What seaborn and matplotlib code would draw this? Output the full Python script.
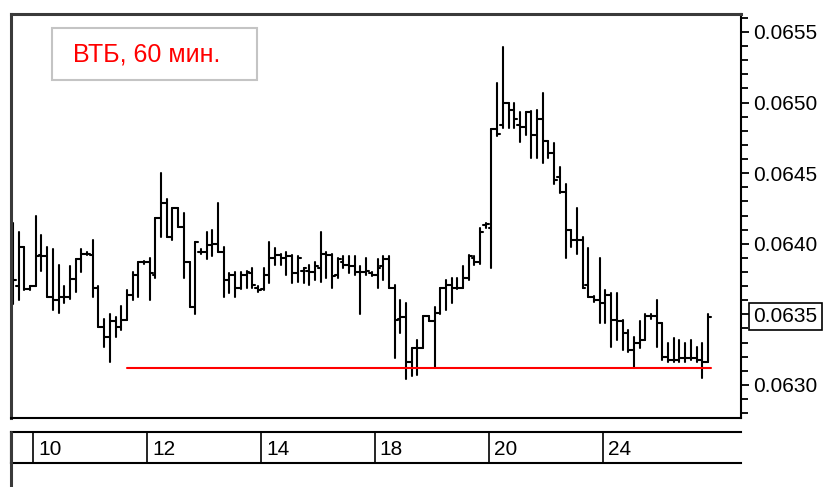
import matplotlib
matplotlib.use("Agg")
import matplotlib.pyplot as plt
import matplotlib.patches as mpatches
from matplotlib.lines import Line2D
import numpy as np
import pandas as pd
import seaborn as sns

title = "ВТБ, 60 мин."

# hourly OHLC bars, prices in units of 0.00001 rub
opens = [6408, 6370, 6398, 6368, 6370, 6392, 6391, 6362, 6360, 6362,
         6362, 6375, 6389, 6393, 6392, 6369, 6341, 6334, 6345, 6341,
         6346, 6364, 6378, 6387, 6387, 6378, 6418, 6429, 6405, 6425,
         6412, 6387, 6355, 6394, 6394, 6399, 6400, 6394, 6374, 6378,
         6369, 6378, 6379, 6369, 6368, 6378, 6390, 6392, 6390, 6391,
         6379, 6381, 6381, 6380, 6383, 6393, 6392, 6378, 6387, 6385,
         6384, 6380, 6380, 6379, 6378, 6384, 6389, 6369, 6347, 6348,
         6316, 6326, 6326, 6349, 6345, 6351, 6369, 6371, 6369, 6369,
         6376, 6390, 6387, 6413, 6411, 6481, 6484, 6500, 6495, 6484,
         6483, 6493, 6477, 6488, 6473, 6464, 6447, 6437, 6410, 6403,
         6403, 6371, 6362, 6360, 6358, 6364, 6346, 6345, 6337, 6325,
         6330, 6332, 6349, 6349, 6344, 6320, 6318, 6318, 6319, 6319,
         6319, 6318, 6316]
highs = [6415, 6408, 6398, 6370, 6420, 6406, 6398, 6396, 6385, 6370,
         6384, 6389, 6396, 6394, 6403, 6370, 6347, 6350, 6348, 6356,
         6367, 6380, 6387, 6388, 6390, 6418, 6450, 6432, 6425, 6425,
         6422, 6387, 6401, 6396, 6408, 6410, 6429, 6398, 6379, 6380,
         6380, 6381, 6383, 6370, 6383, 6401, 6397, 6393, 6394, 6392,
         6391, 6383, 6385, 6387, 6408, 6394, 6393, 6390, 6391, 6391,
         6391, 6384, 6390, 6380, 6389, 6391, 6391, 6371, 6360, 6358,
         6326, 6332, 6349, 6349, 6355, 6369, 6374, 6376, 6376, 6384,
         6392, 6391, 6411, 6415, 6481, 6514, 6539, 6500, 6500, 6493,
         6493, 6494, 6495, 6507, 6473, 6471, 6454, 6442, 6410, 6425,
         6405, 6397, 6363, 6390, 6367, 6365, 6365, 6346, 6339, 6334,
         6345, 6350, 6350, 6360, 6344, 6330, 6333, 6332, 6330, 6332,
         6327, 6330, 6350]
lows = [6357, 6360, 6367, 6367, 6370, 6381, 6362, 6353, 6351, 6358,
        6361, 6366, 6380, 6392, 6362, 6341, 6327, 6316, 6334, 6339,
        6346, 6360, 6362, 6386, 6360, 6376, 6405, 6405, 6403, 6412,
        6376, 6355, 6350, 6393, 6389, 6391, 6394, 6362, 6365, 6362,
        6368, 6369, 6369, 6366, 6367, 6372, 6385, 6385, 6378, 6372,
        6373, 6372, 6371, 6374, 6373, 6376, 6369, 6376, 6383, 6379,
        6378, 6350, 6378, 6377, 6369, 6374, 6369, 6319, 6337, 6304,
        6306, 6307, 6326, 6345, 6312, 6350, 6353, 6358, 6368, 6369,
        6374, 6385, 6386, 6411, 6383, 6476, 6482, 6482, 6482, 6472,
        6477, 6461, 6461, 6457, 6461, 6442, 6436, 6390, 6398, 6393,
        6369, 6362, 6359, 6344, 6344, 6327, 6332, 6325, 6323, 6312,
        6326, 6332, 6347, 6327, 6318, 6316, 6316, 6316, 6316, 6318,
        6316, 6305, 6316]
closes = [6374, 6398, 6368, 6370, 6391, 6391, 6362, 6360, 6362, 6362,
          6375, 6389, 6393, 6393, 6369, 6341, 6334, 6345, 6341, 6346,
          6364, 6378, 6387, 6387, 6379, 6418, 6429, 6405, 6425, 6412,
          6387, 6355, 6401, 6394, 6399, 6400, 6394, 6374, 6378, 6369,
          6378, 6380, 6371, 6367, 6378, 6390, 6392, 6390, 6391, 6379,
          6390, 6383, 6380, 6384, 6393, 6392, 6377, 6389, 6385, 6384,
          6380, 6380, 6381, 6378, 6383, 6389, 6369, 6346, 6348, 6316,
          6326, 6326, 6349, 6345, 6351, 6369, 6371, 6369, 6369, 6376,
          6391, 6387, 6408, 6414, 6481, 6478, 6500, 6495, 6488, 6483,
          6493, 6477, 6488, 6473, 6464, 6445, 6437, 6410, 6403, 6403,
          6369, 6362, 6360, 6358, 6364, 6346, 6345, 6337, 6325, 6330,
          6332, 6349, 6349, 6344, 6320, 6318, 6318, 6319, 6319, 6319,
          6318, 6316, 6348]

support_level = 6312
support_bars = [20, 122.5]

day_labels = ["10", "12", "14", "18", "20", "24"]
day_first_bar = [4, 24, 44, 64, 84, 104]

last_price = "0.0635"

sns.set_theme(style="white")
plt.rcParams['font.family'] = ['Liberation Sans', 'DejaVu Sans']

step = 1e-5
o = np.array(opens) * step
h = np.array(highs) * step
lo = np.array(lows) * step
c = np.array(closes) * step
n = len(o)
idx = np.arange(n)
w = 0.5

# every bar = high-low stroke + open tick (left) + close tick (right)
segs = pd.DataFrame({
    "x": np.concatenate([idx, idx, idx - w, idx, idx, idx + w]),
    "y": np.concatenate([lo, h, o, o, c, c]),
    "seg": np.concatenate([idx, idx, idx + n, idx + n, idx + 2 * n, idx + 2 * n]),
})

fig = plt.figure(figsize=(8.24, 4.87), dpi=100)
W, H = 824, 487
ax = fig.add_axes([11 / W, (H - 418) / H, 730 / W, 404 / H])

sns.lineplot(data=segs, x="x", y="y", units="seg", estimator=None, sort=False,
             color="black", lw=1.5, ax=ax)
sns.lineplot(x=support_bars, y=[support_level * step] * 2, color="#ff0000",
             lw=1.5, ax=ax)

ax.set_xlim(-0.35, 127.8)
ax.set_ylim(0.062766, 0.065627)
ax.set(xlabel=None, ylabel=None)
ax.set_xticks([])

ax.yaxis.tick_right()
major = np.round(np.arange(0.0630, 0.06551, 0.0005), 4)
minor = np.round(np.arange(0.0628, 0.06565, 0.0001), 4)
ax.set_yticks(major, [f"{v:.4f}" for v in major])
ax.set_yticks(minor, minor=True)
ax.tick_params(axis="y", which="both", direction="out", right=True, left=False,
               width=1.3, color="black", labelsize=15, pad=3, labelcolor="black")
ax.tick_params(axis="y", which="major", length=6)
ax.tick_params(axis="y", which="minor", length=5)

for tick in ax.yaxis.get_major_ticks():
    if f"{tick.get_loc():.4f}" == last_price:
        tick.label2.set_bbox(dict(boxstyle="square,pad=0.2", fc="white",
                                  ec="black", lw=1.2))

for side in ["right", "bottom"]:
    ax.spines[side].set_color("black")
    ax.spines[side].set_linewidth(1.5)
for side in ["left", "top"]:
    ax.spines[side].set_color("#3a3a3a")
    ax.spines[side].set_linewidth(2.2)

# title box
ax.add_patch(mpatches.Rectangle((41 / 730, 1 - 66 / 404), 205 / 730, 52 / 404,
                                transform=ax.transAxes, fc="white", ec="#c4c4c4",
                                lw=1.5, zorder=5))
ax.text(62 / 730, 1 - 40 / 404, title, transform=ax.transAxes, color="#ff0000",
        fontsize=18, va="center", ha="left", zorder=6)

# date strip
ax2 = fig.add_axes([11 / W, (H - 463) / H, 730 / W, 31 / H])
ax2.set_xlim(ax.get_xlim())
ax2.set_ylim(0, 1)
ax2.set_xticks([])
ax2.set_yticks([])
seps = np.array(day_first_bar) - 0.5
ax2.vlines(seps, 0, 1, color="black", lw=1.2)
for s, lab in zip(seps, day_labels):
    ax2.text(s + 0.9, 0.45, lab, fontsize=15, va="center", ha="left", color="black")
ax2.spines["right"].set_visible(False)
for side in ["top", "bottom", "left"]:
    ax2.spines[side].set_color("black")
    ax2.spines[side].set_linewidth(1.5)
fig.add_artist(Line2D([11 / W, 11 / W], [0, (H - 432) / H], color="#3a3a3a", lw=2.2))

fig.savefig("out.png", dpi=100)
plt.close(fig)
